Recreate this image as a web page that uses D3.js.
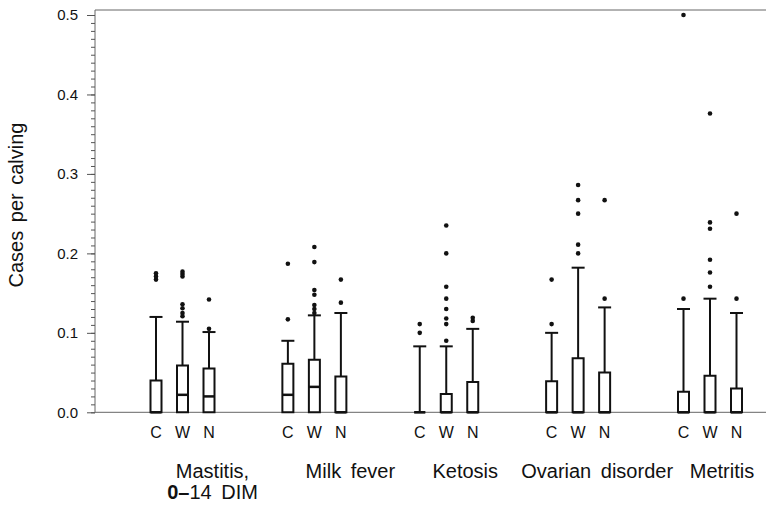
<!DOCTYPE html>
<html>
<head>
<meta charset="utf-8">
<script src="https://cdn.jsdelivr.net/npm/d3@7"></script>
<style>
  body { margin: 0; background: #fff; }
  text { font-family: "Liberation Sans", Arial, Helvetica, sans-serif; fill: #111; }
</style>
</head>
<body>
<script>
//size of the picture
var width = 766;
var height = 531;

//the data
var categories = ["Mastitis", "Milk fever", "Ketosis", "Ovarian disorder", "Metritis"];
var labelLines = [["Mastitis,", "0\u201314 DIM"], ["Milk fever"], ["Ketosis"], ["Ovarian disorder"], ["Metritis"]];
var series = ["C", "W", "N"];
var medians = [[0, 0.022, 0.020], [0.022, 0.032, 0], [0, 0, 0], [0, 0, 0], [0, 0, 0]];
var upperQuartiles = [[0.040, 0.059, 0.055], [0.061, 0.066, 0.045], [0, 0.023, 0.038], [0.039, 0.068, 0.050], [0.026, 0.046, 0.030]];
var upperWhiskers = [[0.120, 0.114, 0.101], [0.090, 0.122, 0.125], [0.083, 0.083, 0.105], [0.100, 0.182, 0.132], [0.130, 0.143, 0.125]];
var outliers = [
    [[0.167, 0.171, 0.175], [0.121, 0.125, 0.131, 0.136, 0.171, 0.174, 0.177], [0.105, 0.142]],
    [[0.117, 0.187], [0.125, 0.130, 0.135, 0.148, 0.154, 0.189, 0.208], [0.138, 0.167]],
    [[0.100, 0.111], [0.090, 0.111, 0.118, 0.130, 0.143, 0.158, 0.200, 0.235], [0.115, 0.119]],
    [[0.111, 0.167], [0.200, 0.211, 0.250, 0.267, 0.286], [0.143, 0.267]],
    [[0.143, 0.500], [0.158, 0.176, 0.192, 0.231, 0.239, 0.376], [0.143, 0.250]]
];
var yTicks = [0, 0.1, 0.2, 0.3, 0.4, 0.5];

//layout
var plotLeft = 95, plotTop = 10, plotBottom = 412.3;
var boxW = 11;
var labelShift = [30, 36, 19, 19, 12];

var svg = d3.select("body").append("svg")
    .attr("width", width)
    .attr("height", height);

var y = d3.scaleLinear().domain([0, 0.5]).range([plotBottom, 15]);
var xGroup = d3.scalePoint().domain(categories).range([182.5, 710]);
var xSub = d3.scalePoint().domain(series).range([-26.5, 26.5]);

//frame
svg.append("path")
    .attr("d", "M" + width + "," + plotTop + "H" + plotLeft + "V" + plotBottom + "H" + width)
    .attr("fill", "none")
    .attr("stroke", "#666")
    .attr("stroke-width", 1);

//minor ticks
var minor = svg.append("g")
    .attr("transform", "translate(" + plotLeft + ",0)")
    .call(d3.axisLeft(y).tickValues(d3.range(0, 0.501, 0.01)).tickSize(4).tickFormat(""));
minor.select(".domain").remove();
minor.selectAll("line").attr("stroke", "#555");

//major ticks
var yAxis = svg.append("g")
    .attr("transform", "translate(" + plotLeft + ",0)")
    .call(d3.axisLeft(y).tickValues(yTicks).tickSize(8).tickPadding(9).tickFormat(d3.format(".1f")));
yAxis.select(".domain").remove();
yAxis.selectAll("line").attr("stroke", "#555");
yAxis.selectAll("text").attr("font-size", 15).attr("fill", "#111");

svg.append("text")
    .attr("transform", "translate(23,205) rotate(-90)")
    .attr("text-anchor", "middle")
    .attr("font-size", 20)
    .attr("word-spacing", 3)
    .text("Cases per calving");

//boxes
categories.forEach(function(cat, i) {
    series.forEach(function(s, j) {
        var cx = xGroup(cat) + xSub(s);
        var g = svg.append("g");
        var x0 = cx - boxW / 2, x1 = cx + boxW / 2;
        //whisker
        g.append("line")
            .attr("x1", cx).attr("x2", cx)
            .attr("y1", y(upperQuartiles[i][j])).attr("y2", y(upperWhiskers[i][j]))
            .attr("stroke", "#111").attr("stroke-width", 2);
        g.append("line")
            .attr("x1", x0 - 1).attr("x2", x1 + 1)
            .attr("y1", y(upperWhiskers[i][j])).attr("y2", y(upperWhiskers[i][j]))
            .attr("stroke", "#111").attr("stroke-width", 2);
        //box
        g.append("path")
            .attr("d", "M" + x0 + "," + y(0) + "H" + x1 + "V" + y(upperQuartiles[i][j]) + "H" + x0 + "Z")
            .attr("fill", "#fff")
            .attr("stroke", "#111").attr("stroke-width", 2);
        //median
        g.append("line")
            .attr("x1", x0).attr("x2", x1)
            .attr("y1", y(medians[i][j])).attr("y2", y(medians[i][j]))
            .attr("stroke", "#111").attr("stroke-width", 2.5);
        //outliers
        g.selectAll("circle")
            .data(outliers[i][j])
            .enter().append("circle")
            .attr("cx", cx)
            .attr("cy", function(d) { return y(d); })
            .attr("r", 2.3)
            .attr("fill", "#111");
        //series label
        svg.append("text")
            .attr("x", cx)
            .attr("y", 438)
            .attr("text-anchor", "middle")
            .attr("font-size", 16)
            .text(s);
    });

    //category label
    var t = svg.append("text")
        .attr("text-anchor", "middle")
        .attr("font-size", 20)
        .attr("word-spacing", 4);
    labelLines[i].forEach(function(line, k) {
        var ts = t.append("tspan")
            .attr("x", xGroup(cat) + labelShift[i])
            .attr("y", 478 + k * 21);
        if (line.indexOf("0\u2013") === 0) {
            ts.append("tspan").attr("font-weight", "bold").text("0\u2013");
            ts.append("tspan").text(line.slice(2));
        } else {
            ts.text(line);
        }
    });
});
</script>
</body>
</html>
